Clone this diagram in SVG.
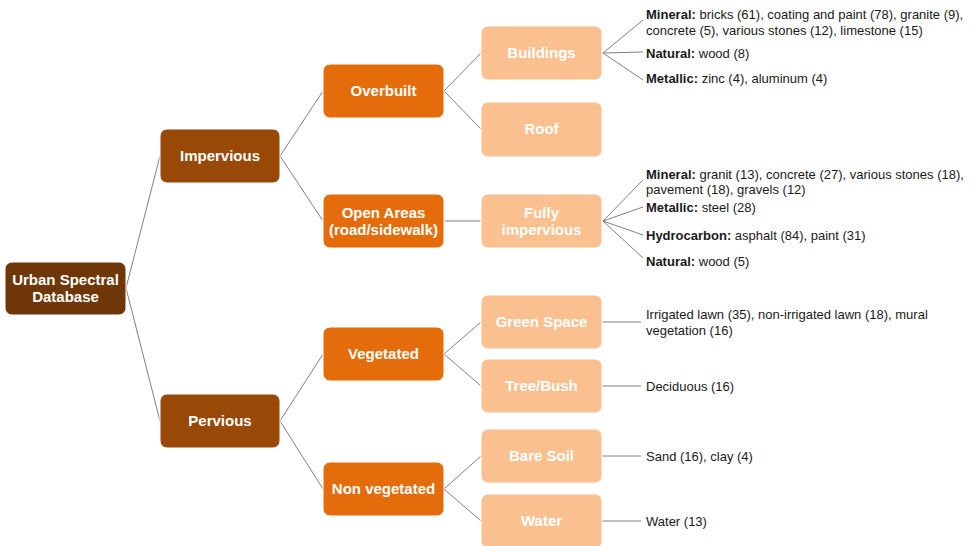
<svg xmlns="http://www.w3.org/2000/svg" width="973" height="546" viewBox="0 0 973 546">
<style>
.box{stroke:#ffffff;stroke-width:1}
.l0{fill:#6F3608}
.l1{fill:#984807}
.l2{fill:#E46C0A}
.l3{fill:#FAC08F}
.bt{font-family:"Liberation Sans",Arial,sans-serif;font-weight:bold;font-size:15px;fill:#ffffff;text-anchor:middle}
.lt{font-family:"Liberation Sans",Arial,sans-serif;font-size:13px;fill:#1a1a1a}
.lt tspan.b{font-weight:bold}
.con line, .con polyline{stroke:#808080;stroke-width:1;fill:none}
</style>
<rect width="973" height="546" fill="#ffffff"/>
<g class="con" id="connectors">
<line x1="126" y1="288" x2="160" y2="156"/>
<line x1="126" y1="288" x2="160" y2="421"/>
<line x1="280" y1="156" x2="323" y2="91"/>
<line x1="280" y1="156" x2="323" y2="221"/>
<line x1="280" y1="421" x2="323" y2="354"/>
<line x1="280" y1="421" x2="323" y2="489"/>
<line x1="444" y1="91" x2="481" y2="53"/>
<line x1="444" y1="91" x2="481" y2="129"/>
<line x1="444" y1="221" x2="481" y2="221"/>
<line x1="444" y1="354" x2="481" y2="322"/>
<line x1="444" y1="354" x2="481" y2="386"/>
<line x1="444" y1="489" x2="481" y2="456"/>
<line x1="444" y1="489" x2="481" y2="521"/>
<line x1="603" y1="53" x2="643" y2="20"/>
<line x1="603" y1="53" x2="643" y2="52"/>
<line x1="603" y1="53" x2="643" y2="80"/>
<line x1="603" y1="221" x2="643" y2="180"/>
<line x1="603" y1="221" x2="643" y2="207"/>
<line x1="603" y1="221" x2="643" y2="235"/>
<line x1="603" y1="221" x2="643" y2="258"/>
<line x1="602" y1="322" x2="641" y2="322"/>
<line x1="602" y1="386" x2="641" y2="386"/>
<line x1="602" y1="456" x2="641" y2="456"/>
<line x1="602" y1="521" x2="641" y2="521"/>
</g>
<g id="root"><rect class="box l0" x="5" y="262" width="121" height="53" rx="7"/><text class="bt" x="65.5" y="285">Urban Spectral</text><text class="bt" x="65.5" y="302">Database</text></g>
<g id="impervious"><rect class="box l1" x="160" y="129" width="120" height="54" rx="7"/><text class="bt" x="220" y="161">Impervious</text></g>
<g id="pervious"><rect class="box l1" x="160" y="394" width="120" height="54" rx="7"/><text class="bt" x="220" y="426">Pervious</text></g>
<g id="overbuilt"><rect class="box l2" x="323" y="64" width="121" height="54" rx="7"/><text class="bt" x="383.5" y="96">Overbuilt</text></g>
<g id="openareas"><rect class="box l2" x="323" y="194" width="121" height="54" rx="7"/><text class="bt" x="383.5" y="218">Open Areas</text><text class="bt" x="383.5" y="235">(road/sidewalk)</text></g>
<g id="vegetated"><rect class="box l2" x="323" y="327" width="121" height="54" rx="7"/><text class="bt" x="383.5" y="359">Vegetated</text></g>
<g id="nonvegetated"><rect class="box l2" x="323" y="462" width="121" height="54" rx="7"/><text class="bt" x="383.5" y="494">Non vegetated</text></g>
<g id="buildings"><rect class="box l3" x="481" y="26" width="121" height="54" rx="7"/><text class="bt" x="541.5" y="58">Buildings</text></g>
<g id="roof"><rect class="box l3" x="481" y="102" width="121" height="55" rx="7"/><text class="bt" x="541.5" y="134">Roof</text></g>
<g id="fullyimpervious"><rect class="box l3" x="481" y="194" width="121" height="54" rx="7"/><text class="bt" x="541.5" y="218">Fully</text><text class="bt" x="541.5" y="235">impervious</text></g>
<g id="greenspace"><rect class="box l3" x="481" y="295" width="121" height="54" rx="7"/><text class="bt" x="541.5" y="327">Green Space</text></g>
<g id="treebush"><rect class="box l3" x="481" y="359" width="121" height="54" rx="7"/><text class="bt" x="541.5" y="391">Tree/Bush</text></g>
<g id="baresoil"><rect class="box l3" x="481" y="429" width="121" height="54" rx="7"/><text class="bt" x="541.5" y="461">Bare Soil</text></g>
<g id="water"><rect class="box l3" x="481" y="494" width="121" height="54" rx="7"/><text class="bt" x="541.5" y="526">Water</text></g>
<g id="leaves">
<text class="lt" x="646" y="19"><tspan class="b">Mineral:</tspan> bricks (61), coating and paint (78), granite (9),</text>
<text class="lt" x="646" y="35">concrete (5), various stones (12), limestone (15)</text>
<text class="lt" x="646" y="58"><tspan class="b">Natural:</tspan> wood (8)</text>
<text class="lt" x="646" y="83"><tspan class="b">Metallic:</tspan> zinc (4), aluminum (4)</text>
<text class="lt" x="646" y="179"><tspan class="b">Mineral:</tspan> granit (13), concrete (27), various stones (18),</text>
<text class="lt" x="646" y="194">pavement (18), gravels (12)</text>
<text class="lt" x="646" y="212"><tspan class="b">Metallic:</tspan> steel (28)</text>
<text class="lt" x="646" y="240"><tspan class="b">Hydrocarbon:</tspan>  asphalt (84), paint (31)</text>
<text class="lt" x="646" y="266"><tspan class="b">Natural:</tspan> wood (5)</text>
<text class="lt" x="646" y="319">Irrigated lawn (35), non-irrigated lawn (18), mural</text>
<text class="lt" x="646" y="335">vegetation (16)</text>
<text class="lt" x="646" y="391">Deciduous (16)</text>
<text class="lt" x="646" y="461">Sand (16), clay (4)</text>
<text class="lt" x="646" y="526">Water (13)</text>
</g>
</svg>
